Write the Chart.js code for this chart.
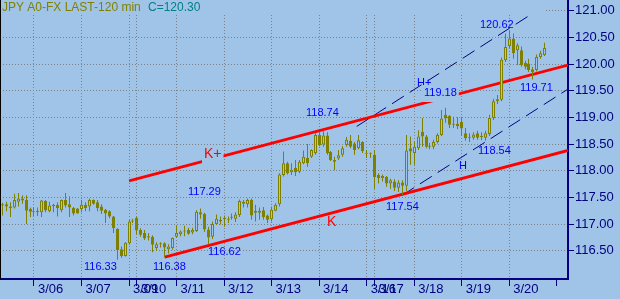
<!DOCTYPE html>
<html>
<head>
<meta charset="utf-8">
<title>JPY A0-FX 120 min</title>
<script src="https://cdn.jsdelivr.net/npm/chart.js@4.4.1/dist/chart.umd.min.js"></script>
<style>
  html, body { margin: 0; padding: 0; background: #a0c4e8; }
  #wrap { position: relative; width: 620px; height: 299px; }
</style>
</head>
<body>
<div id="wrap"><canvas id="fxChart"></canvas></div>
<script>
// 2-hour bars, index 0 = first bar on screen (3/05)
const opens = [
  117.37, 117.37, 117.33, 117.31, 117.42, 117.48, 117.45, 117.28,
  117.23, 117.25, 117.22, 117.43, 117.24, 117.36, 117.36, 117.26, 117.45, 117.37, 117.30, 117.29,
  117.28, 117.36, 117.33, 117.45, 117.41, 117.33, 117.27, 117.24, 117.14, 116.91, 116.53, 116.40,
  116.64, 117.06,
  117.12, 116.89, 116.83, 116.77, 116.76, 116.55, 116.63, 116.64, 116.53, 116.55,
  116.76, 116.81, 116.88, 116.89, 116.84, 116.87, 117.22, 117.19, 116.90, 116.76, 117.00, 117.05,
  117.12, 117.10, 117.12, 117.10, 117.17, 117.42, 117.37, 117.45, 117.25, 117.21, 117.26, 117.16,
  117.09, 117.25, 117.37, 117.92, 118.14, 117.97, 118.05, 117.98, 118.14, 118.24, 118.26, 118.33,
  118.67, 118.49, 118.66, 118.35, 118.20, 118.23, 118.30, 118.48, 118.56, 118.51, 118.42, 118.54,
  118.33, 118.33,
  118.30, 117.92, 117.86, 117.88, 117.76, 117.80, 117.68, 117.78, 117.72, 118.42,
  118.33, 118.42, 118.73, 118.64, 118.47, 118.45, 118.54, 118.67, 119.05, 119.03, 118.86, 118.88,
  118.92, 118.70, 118.62, 118.62, 118.70, 118.63, 118.62, 118.69, 118.99, 119.30, 119.33, 120.07,
  120.34, 120.48, 120.26, 120.26, 120.02, 120.01, 119.90, 119.89, 120.13, 120.17
];
const highs = [
  117.40, 117.42, 117.41, 117.57, 117.58, 117.54, 117.54, 117.31,
  117.31, 117.31, 117.45, 117.45, 117.42, 117.38, 117.41, 117.46, 117.58, 117.52, 117.32, 117.30,
  117.45, 117.41, 117.48, 117.46, 117.45, 117.37, 117.28, 117.26, 117.15, 116.92, 116.58, 116.66,
  117.08, 117.10,
  117.14, 116.92, 116.89, 116.83, 116.79, 116.66, 116.66, 116.66, 116.62, 116.75,
  116.97, 116.88, 116.97, 116.93, 116.93, 117.26, 117.29, 117.21, 116.95, 117.05, 117.18, 117.14,
  117.16, 117.14, 117.20, 117.22, 117.46, 117.45, 117.48, 117.48, 117.36, 117.31, 117.32, 117.18,
  117.33, 117.39, 117.95, 118.36, 118.17, 118.14, 118.20, 118.20, 118.38, 118.50, 118.40, 118.70,
  118.72, 118.74, 118.72, 118.37, 118.26, 118.39, 118.46, 118.63, 118.67, 118.54, 118.67, 118.55,
  118.39, 118.34,
  118.39, 117.95, 117.93, 117.90, 117.85, 117.84, 117.82, 117.82, 118.67, 118.64,
  118.54, 118.76, 118.99, 118.67, 118.52, 118.58, 118.70, 119.14, 119.18, 119.04, 119.01, 119.00,
  119.01, 118.80, 118.70, 118.72, 118.75, 118.72, 118.75, 119.05, 119.35, 119.42, 120.12, 120.57,
  120.62, 120.57, 120.39, 120.33, 120.06, 120.10, 119.95, 120.18, 120.25, 120.40
];
const lows = [
  117.16, 117.24, 117.13, 117.29, 117.33, 117.38, 117.00, 117.13,
  117.15, 117.15, 117.13, 117.22, 117.22, 117.22, 117.14, 117.22, 117.31, 117.13, 117.16, 117.20,
  117.22, 117.24, 117.24, 117.36, 117.24, 117.19, 117.02, 117.11, 116.83, 116.33, 116.37, 116.39,
  116.61, 117.02,
  116.80, 116.76, 116.70, 116.69, 116.47, 116.50, 116.56, 116.38, 116.45, 116.52,
  116.74, 116.77, 116.77, 116.80, 116.81, 116.85, 117.10, 116.85, 116.62, 116.72, 116.98, 116.99,
  116.95, 117.02, 117.08, 117.04, 117.13, 117.31, 117.31, 117.08, 117.05, 117.08, 117.08, 117.02,
  117.05, 117.24, 117.33, 117.89, 117.93, 117.92, 117.90, 117.95, 118.12, 118.07, 118.24, 118.30,
  118.46, 118.45, 118.30, 118.18, 118.01, 118.20, 118.26, 118.45, 118.42, 118.30, 118.40, 118.33,
  118.24, 118.24,
  117.66, 117.76, 117.80, 117.70, 117.66, 117.62, 117.60, 117.54, 117.62, 118.11,
  118.11, 118.39, 118.45, 118.42, 118.40, 118.40, 118.51, 118.65, 118.90, 118.80, 118.80, 118.78,
  118.65, 118.56, 118.54, 118.58, 118.58, 118.57, 118.56, 118.65, 118.95, 119.25, 119.30, 120.04,
  120.30, 120.10, 119.98, 119.95, 119.90, 119.85, 119.71, 119.86, 120.10, 120.15
];
const closes = [
  117.35, 117.33, 117.30, 117.45, 117.48, 117.44, 117.25, 117.23,
  117.22, 117.22, 117.44, 117.26, 117.35, 117.34, 117.30, 117.45, 117.35, 117.31, 117.20, 117.20,
  117.36, 117.30, 117.45, 117.38, 117.30, 117.25, 117.20, 117.14, 116.92, 116.51, 116.40, 116.65,
  117.05, 117.05,
  116.88, 116.80, 116.73, 116.75, 116.61, 116.62, 116.62, 116.56, 116.58, 116.74,
  116.83, 116.86, 116.86, 116.82, 116.89, 117.23, 117.18, 116.90, 116.75, 117.00, 117.10, 117.08,
  117.09, 117.08, 117.13, 117.18, 117.43, 117.38, 117.45, 117.16, 117.21, 117.25, 117.13, 117.08,
  117.27, 117.36, 117.93, 118.14, 117.95, 118.02, 117.97, 118.17, 118.26, 118.14, 118.39, 118.67,
  118.48, 118.66, 118.33, 118.20, 118.17, 118.29, 118.42, 118.58, 118.45, 118.39, 118.57, 118.37,
  118.32, 118.32,
  117.88, 117.86, 117.90, 117.76, 117.82, 117.68, 117.78, 117.72, 118.38, 118.36,
  118.45, 118.64, 118.64, 118.45, 118.45, 118.54, 118.67, 118.98, 118.98, 118.86, 118.88, 118.84,
  118.79, 118.61, 118.63, 118.68, 118.62, 118.65, 118.70, 118.99, 119.30, 119.34, 120.08, 120.32,
  120.48, 120.20, 120.35, 119.98, 119.95, 119.89, 119.85, 120.13, 120.20, 120.30
];

// first bar of each day
const dayStarts = [8, 20, 32, 34, 44, 56, 68, 80, 92, 94, 104, 116, 128, 140];
const dayLabels = ['3/06', '3/07', '3/09', '3/10', '3/11', '3/12', '3/13', '3/14', '3/16', '3/17', '3/18', '3/19', '3/20', ''];
const priceTicks = [116.5, 117.0, 117.5, 118.0, 118.5, 119.0, 119.5, 120.0, 120.5, 121.0];

// trend lines: [bar, price] at each end
const lineKPlus = [[32, 117.81], [142.85, 119.98]];
const lineK = [[41, 116.38], [142.85, 118.38]];
const lineHPlus = [[89.5, 118.83], [133.3, 120.92]];
const lineH = [[101, 117.54], [142.85, 119.53]];

const lastClose = 120.30;

const BG = '#a0c4e8';
const OLIVE = '#808000';
const NAVY = '#000080';
const BLUE = '#0000ff';
const RED = '#ff0000';
const GRID = '#808080';
const FONT = "'Liberation Sans', Arial, sans-serif";

const toPoints = pts => pts.map(p => ({ x: p[0], y: p[1] }));

const bars = opens.map((o, i) => i);
const wickData = bars.map(i => ({ x: i, y: [lows[i], highs[i]] }));
const bodyData = bars.map(i => ({ x: i, y: [opens[i], closes[i]] }));

// text put on the chart, anchored at [bar, price] (left / middle of the text)
const notes = [
  { text: '120.62', at: [120.6, 120.73], color: BLUE },
  { text: 'H+', at: [104.7, 119.64], color: BLUE },
  { text: '119.18', at: [106.5, 119.46], color: BLUE, box: true },
  { text: '118.74', at: [76.7, 119.08], color: BLUE },
  { text: '117.29', at: [46.9, 117.60], color: BLUE },
  { text: '116.33', at: [20.6, 116.20], color: BLUE },
  { text: '116.38', at: [38.1, 116.20], color: BLUE },
  { text: '116.62', at: [51.9, 116.48], color: BLUE },
  { text: '117.54', at: [96.9, 117.32], color: BLUE },
  { text: '118.54', at: [120.1, 118.37], color: BLUE },
  { text: '119.71', at: [130.7, 119.55], color: BLUE },
  { text: 'H', at: [115.3, 118.09], color: BLUE },
  { text: 'K+', at: [50.9, 118.31], color: RED, big: true, box: true },
  { text: 'K', at: [82.0, 117.04], color: RED, big: true }
];

const noPadding = s => {
  s.paddingTop = 0;
  s.paddingBottom = 0;
  s.paddingLeft = 0;
  s.paddingRight = 0;
};

const decor = {
  id: 'decor',
  beforeDatasetsDraw(chart) {
    const ctx = chart.ctx;
    // header strip hides the grid under the title
    ctx.save();
    ctx.fillStyle = BG;
    ctx.fillRect(0, 0, 546, 14);
    ctx.restore();
    // keep candles on whole pixels
    chart.getSortedVisibleDatasetMetas().forEach(m => {
      if (m.type !== 'bar') return;
      m.data.forEach(el => { el.x = Math.floor(el.x) + 0.5; });
    });
  },
  afterDatasetsDraw(chart) {
    const ctx = chart.ctx;
    const xs = chart.scales.x, ys = chart.scales.y;
    ctx.save();
    ctx.textAlign = 'left';
    ctx.textBaseline = 'middle';
    notes.forEach(n => {
      const px = Math.round(xs.getPixelForValue(n.at[0]));
      const py = Math.round(ys.getPixelForValue(n.at[1]));
      ctx.font = (n.big ? '14px ' : '11px ') + FONT;
      if (n.box) {
        const w = ctx.measureText(n.text).width;
        ctx.fillStyle = BG;
        ctx.fillRect(px - 2, py - 8, w + 4, 17);
      }
      ctx.fillStyle = n.color;
      ctx.fillText(n.text, px, py);
    });
    ctx.restore();
  },
  afterDraw(chart) {
    const ctx = chart.ctx;
    ctx.save();
    ctx.fillStyle = '#000000';
    ctx.fillRect(0, 0, 1, chart.chartArea.bottom);
    ctx.font = '12px ' + FONT;
    ctx.textBaseline = 'middle';
    ctx.fillStyle = OLIVE;
    ctx.fillText('JPY A0-FX LAST-120 min', 2, 8);
    ctx.fillStyle = '#008080';
    ctx.fillText('C=' + lastClose.toFixed(2), 148, 8);
    ctx.restore();
  }
};

const trend = (pts, color, width, dash) => ({
  type: 'line',
  data: toPoints(pts),
  borderColor: color,
  borderWidth: width,
  borderDash: dash,
  pointRadius: 0,
  fill: false,
  tension: 0
});

new Chart(document.getElementById('fxChart'), {
  type: 'bar',
  data: {
    datasets: [
      {
        data: bodyData,
        barThickness: 3,
        grouped: false,
        minBarLength: 1,
        borderWidth: 1,
        borderSkipped: false,
        inflateAmount: 0,
        borderColor: OLIVE,
        backgroundColor: c => (closes[c.dataIndex] >= opens[c.dataIndex] ? BG : OLIVE)
      },
      {
        data: wickData,
        barThickness: 1,
        grouped: false,
        borderWidth: 0,
        inflateAmount: 0,
        backgroundColor: OLIVE
      },
      trend(lineKPlus, RED, 2.8, []),
      trend(lineK, RED, 2.8, []),
      trend(lineHPlus, NAVY, 1, [14, 7]),
      trend(lineH, NAVY, 1, [14, 7])
    ]
  },
  options: {
    responsive: true,
    maintainAspectRatio: false,
    animation: false,
    layout: { padding: 0 },
    plugins: { legend: { display: false }, tooltip: { enabled: false } },
    scales: {
      x: {
        type: 'linear',
        min: -0.58,
        max: 142.85,
        offset: false,
        afterBuildTicks: s => { s.ticks = dayStarts.map(v => ({ value: v })); },
        afterFit: s => { s.height = 20; noPadding(s); },
        grid: {
          offset: false,
          color: c => (c.tick && c.tick.value === 140 ? 'rgba(0,0,0,0)' : GRID),
          lineWidth: 1,
          tickLength: 7,
          tickColor: NAVY,
          tickWidth: 1,
          tickBorderDash: []
        },
        border: { color: NAVY, width: 2, dash: [1, 2] },
        ticks: {
          autoSkip: false,
          maxRotation: 0,
          minRotation: 0,
          align: 'start',
          labelOffset: 4,
          padding: -4,
          color: NAVY,
          font: { size: 13, family: FONT },
          callback: (v, i) => dayLabels[i]
        }
      },
      y: {
        position: 'right',
        min: 115.97,
        max: 121.2,
        afterBuildTicks: s => { s.ticks = priceTicks.map(v => ({ value: v })); },
        afterFit: s => { s.width = 52; noPadding(s); },
        grid: {
          color: GRID,
          lineWidth: 1,
          tickLength: 6,
          tickColor: NAVY,
          tickWidth: 1,
          tickBorderDash: []
        },
        border: { color: NAVY, width: 2, dash: [1, 2] },
        ticks: {
          padding: 1,
          color: NAVY,
          font: { size: 13, family: FONT },
          callback: v => v.toFixed(2)
        }
      }
    }
  },
  plugins: [decor]
});
</script>
</body>
</html>
